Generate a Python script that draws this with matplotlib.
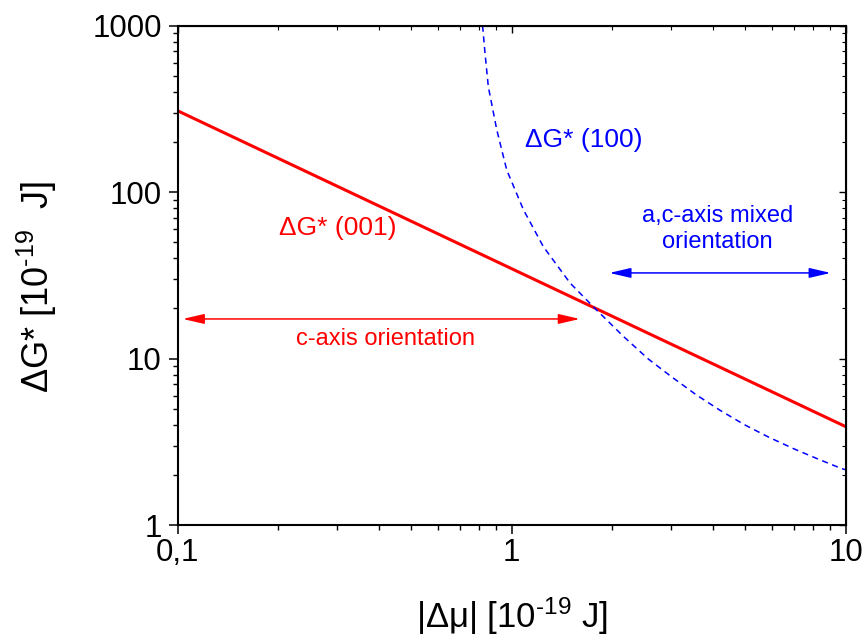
import numpy as np
import matplotlib
matplotlib.use('Agg')
import matplotlib.pyplot as plt

plt.rcParams['font.family'] = ['Liberation Sans', 'DejaVu Sans']
plt.rcParams['mathtext.fontset'] = 'custom'
plt.rcParams['mathtext.rm'] = 'Liberation Sans'
plt.rcParams['mathtext.default'] = 'regular'

# ΔG*(001): straight line on log-log
mu_001 = [0.1, 10]
dg_001 = [308, 3.9]

# ΔG*(100): dashed curve
mu_100 = [0.818, 0.832, 0.851, 0.902, 0.966, 1.084, 1.243, 1.494, 1.75, 2.159, 2.564,
          3.013, 3.563, 4.204, 4.970, 5.866, 6.967, 8.188, 9.73, 10]
dg_100 = [1000, 682, 430, 237, 136, 78.4, 47.1, 28.5, 20.6, 13.6, 9.94,
          7.76, 6.07, 4.89, 4.01, 3.38, 2.88, 2.51, 2.18, 2.15]

x_ticks = [0.1, 1, 10]
x_ticklabels = ['0,1', '1', '10']
y_ticks = [1, 10, 100, 1000]
y_ticklabels = ['1', '10', '100', '1000']

fig = plt.figure(figsize=(8.66, 6.42), dpi=100)
ax = fig.add_axes([0.2052, 0.1822, 0.7714, 0.7778])

ax.plot(mu_001, dg_001, color='#ff0000', lw=2.2)
ax.plot(mu_100, dg_100, color='#0000ff', lw=1.1, dashes=(4, 3))

ax.set_xscale('log')
ax.set_yscale('log')
ax.set_xlim(0.1, 10)
ax.set_ylim(1, 1000)

ax.set_xticks(x_ticks, x_ticklabels)
ax.set_yticks(y_ticks, y_ticklabels)

for s in ax.spines.values():
    s.set_linewidth(1.5)

ax.tick_params(which='major', direction='out', length=6.5, width=1.1, labelsize=22.5)
ax.tick_params(which='minor', direction='out', length=3.6, width=1.0)
ax.tick_params(axis='x', pad=3)
ax.tick_params(axis='y', pad=5)

# mirror ticks on top / right, pointing in
sec_x = ax.secondary_xaxis('top')
sec_x.set_xticks(x_ticks, ['', '', ''])
sec_y = ax.secondary_yaxis('right')
sec_y.set_yticks(y_ticks, ['', '', '', ''])
for sec in [sec_x, sec_y]:
    sec.tick_params(which='major', direction='in', length=5, width=1.0)
    sec.tick_params(which='minor', direction='in', length=3, width=0.8)

ax.set_xlabel(r'|Δμ| [10$^{\text{-19}}$ J]', fontsize=25, labelpad=20)
ax.set_ylabel(r'ΔG* [10$^{\text{-19}}$  J]', fontsize=26, labelpad=24)
ax.yaxis.label.set_y(0.476)

# labels on the curves
ax.text(0.301, 60.8, 'ΔG* (001)', color='#ff0000', fontsize=19, ha='center', va='center')
ax.text(1.646, 206, 'ΔG* (100)', color='#0000ff', fontsize=19, ha='center', va='center')

# c-axis arrow
ax.annotate('', xy=(0.1035, 17.3), xytext=(1.60, 17.3),
            arrowprops=dict(arrowstyle='<|-|>,head_length=0.65,head_width=0.15',
                            color='#ff0000', lw=1.1, shrinkA=0, shrinkB=0, mutation_scale=20))
ax.text(0.418, 15.3, 'c-axis orientation', color='#ff0000', fontsize=17, ha='center', va='top')

# mixed orientation arrow
ax.annotate('', xy=(1.96, 32.7), xytext=(9.02, 32.7),
            arrowprops=dict(arrowstyle='<|-|>,head_length=0.65,head_width=0.15',
                            color='#0000ff', lw=1.1, shrinkA=0, shrinkB=0, mutation_scale=20))
ax.text(4.14, 60.3, 'a,c-axis mixed\norientation', color='#0000ff', fontsize=17,
        ha='center', va='center', linespacing=1.25)

plt.savefig('out.png', dpi=100)
